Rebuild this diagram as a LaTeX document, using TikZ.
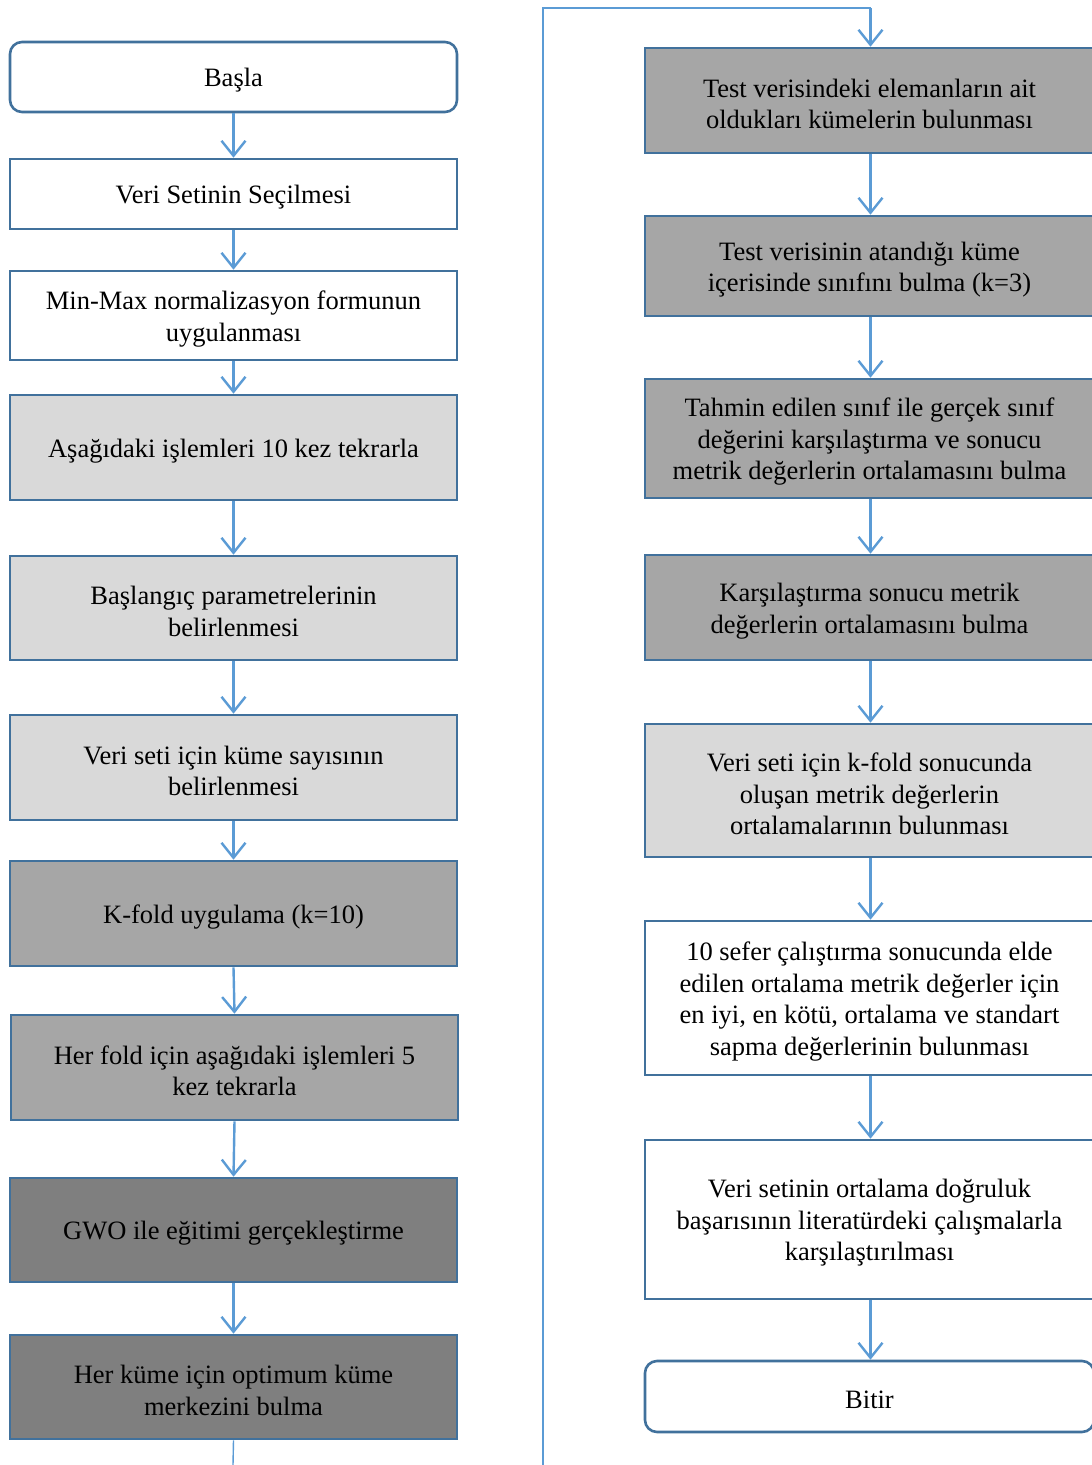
\documentclass[tikz,border=0pt]{standalone}
\usepackage{fontspec}
\setmainfont{Liberation Serif}
\usetikzlibrary{arrows.meta}
\definecolor{edgeblue}{HTML}{41719C}
\definecolor{arrowblue}{HTML}{5B9BD5}
\definecolor{grayA}{HTML}{D9D9D9}
\definecolor{grayB}{HTML}{A6A6A6}
\definecolor{grayC}{HTML}{7F7F7F}
\tikzset{
  box/.style={draw=edgeblue, line width=2.6pt, inner sep=0pt},
  % box text sits a little below the geometric centre
  txt/.style={align=center, font=\fontsize{26.5}{31.5}\selectfont, text=black,
    inner sep=0pt, yshift=-3.5pt},
  terminal/.style={box, rounded corners=12pt, fill=white},
  plainbox/.style={box, fill=white},
  lightbox/.style={box, fill=grayA},
  midbox/.style={box, fill=grayB},
  darkbox/.style={box, fill=grayC},
  flow/.style={draw=arrowblue, line width=2.4pt,
    -{Straight Barb[length=15pt,width=24pt,line width=2.4pt]}},
  thinline/.style={draw=arrowblue, line width=1.4pt},
}
\begin{document}
\begin{tikzpicture}[x=1pt,y=-1pt]
\useasboundingbox (0,0) rectangle (1092,1465);
% left column
\node[terminal, minimum width=447pt, minimum height=70pt, label={[txt]center:{Başla}}] (l1) at (233.5,77) {};
\node[plainbox, minimum width=447pt, minimum height=70pt, label={[txt]center:{Veri Setinin Seçilmesi}}] (l2) at (233.5,194) {};
\node[plainbox, minimum width=447pt, minimum height=89pt, label={[txt]center:{Min-Max normalizasyon formunun\\uygulanması}}] (l3) at (233.5,315.5) {};
\node[lightbox, minimum width=447pt, minimum height=105pt, label={[txt]center:{Aşağıdaki işlemleri 10 kez tekrarla}}] (l4) at (233.5,447.5) {};
\node[lightbox, minimum width=447pt, minimum height=104pt, label={[txt]center:{Başlangıç parametrelerinin\\belirlenmesi}}] (l5) at (233.5,608) {};
\node[lightbox, minimum width=447pt, minimum height=105pt, label={[txt]center:{Veri seti için küme sayısının\\belirlenmesi}}] (l6) at (233.5,767.5) {};
\node[midbox, minimum width=447pt, minimum height=105pt, label={[txt]center:{K-fold uygulama (k=10)}}] (l7) at (233.5,913.5) {};
\node[midbox, minimum width=447pt, minimum height=105pt, label={[txt]center:{Her fold için aşağıdaki işlemleri 5\\kez tekrarla}}] (l8) at (234.5,1067.5) {};
\node[darkbox, minimum width=447pt, minimum height=104pt, label={[txt]center:{GWO ile eğitimi gerçekleştirme}}] (l9) at (233.5,1230) {};
\node[darkbox, minimum width=447pt, minimum height=104pt, label={[txt]center:{Her küme için optimum küme\\merkezini bulma}}] (l10) at (233.5,1387) {};
% right column
\node[midbox, minimum width=449pt, minimum height=105pt, label={[txt]center:{Test verisindeki elemanların ait\\oldukları kümelerin bulunması}}] (r1) at (869.5,100.5) {};
\node[midbox, minimum width=449pt, minimum height=100pt, label={[txt]center:{Test verisinin atandığı küme\\içerisinde sınıfını bulma (k=3)}}] (r2) at (869.5,266) {};
\node[midbox, minimum width=449pt, minimum height=119pt, label={[txt]center:{Tahmin edilen sınıf ile gerçek sınıf\\değerini karşılaştırma ve sonucu\\metrik değerlerin ortalamasını bulma}}] (r3) at (869.5,438.5) {};
\node[midbox, minimum width=449pt, minimum height=105pt, label={[txt]center:{Karşılaştırma sonucu metrik\\değerlerin ortalamasını bulma}}] (r4) at (869.5,607.5) {};
\node[lightbox, minimum width=449pt, minimum height=133pt, label={[txt]center:{Veri seti için k-fold sonucunda\\oluşan metrik değerlerin\\ortalamalarının bulunması}}] (r5) at (869.5,790.5) {};
\node[plainbox, minimum width=449pt, minimum height=154pt, label={[txt]center:{10 sefer çalıştırma sonucunda elde\\edilen ortalama metrik değerler için\\en iyi, en kötü, ortalama ve standart\\sapma değerlerinin bulunması}}] (r6) at (869.5,998) {};
\node[plainbox, minimum width=449pt, minimum height=159pt, label={[txt]center:{Veri setinin ortalama doğruluk\\başarısının literatürdeki çalışmalarla\\karşılaştırılması}}] (r7) at (869.5,1219.5) {};
\node[terminal, minimum width=449pt, minimum height=71pt, label={[txt]center:{Bitir}}] (r8) at (869.5,1396.5) {};
% connectors, left column
\foreach \a/\b in {l1/l2,l2/l3,l3/l4,l4/l5,l5/l6,l6/l7,l7/l8,l8/l9,l9/l10}
  \draw[flow] (\a.south) -- (\b.north);
% connectors, right column
\foreach \a/\b in {r1/r2,r2/r3,r3/r4,r4/r5,r5/r6,r6/r7,r7/r8}
  \draw[flow] ([xshift=1pt]\a.south) -- ([xshift=1pt]\b.north);
% loop continuing off the page
\coordinate (leftout) at (233,1465);
\coordinate (rightin) at (543,1465);
\coordinate (topturn) at (543,8);
\coordinate (topdrop) at (870.5,8);
\draw[thinline] (l10.south) -- (leftout);
\draw[thinline] (rightin) -- (topturn) -- (topdrop);
\draw[flow] (topdrop) -- ([xshift=1pt]r1.north);
\end{tikzpicture}
\end{document}
